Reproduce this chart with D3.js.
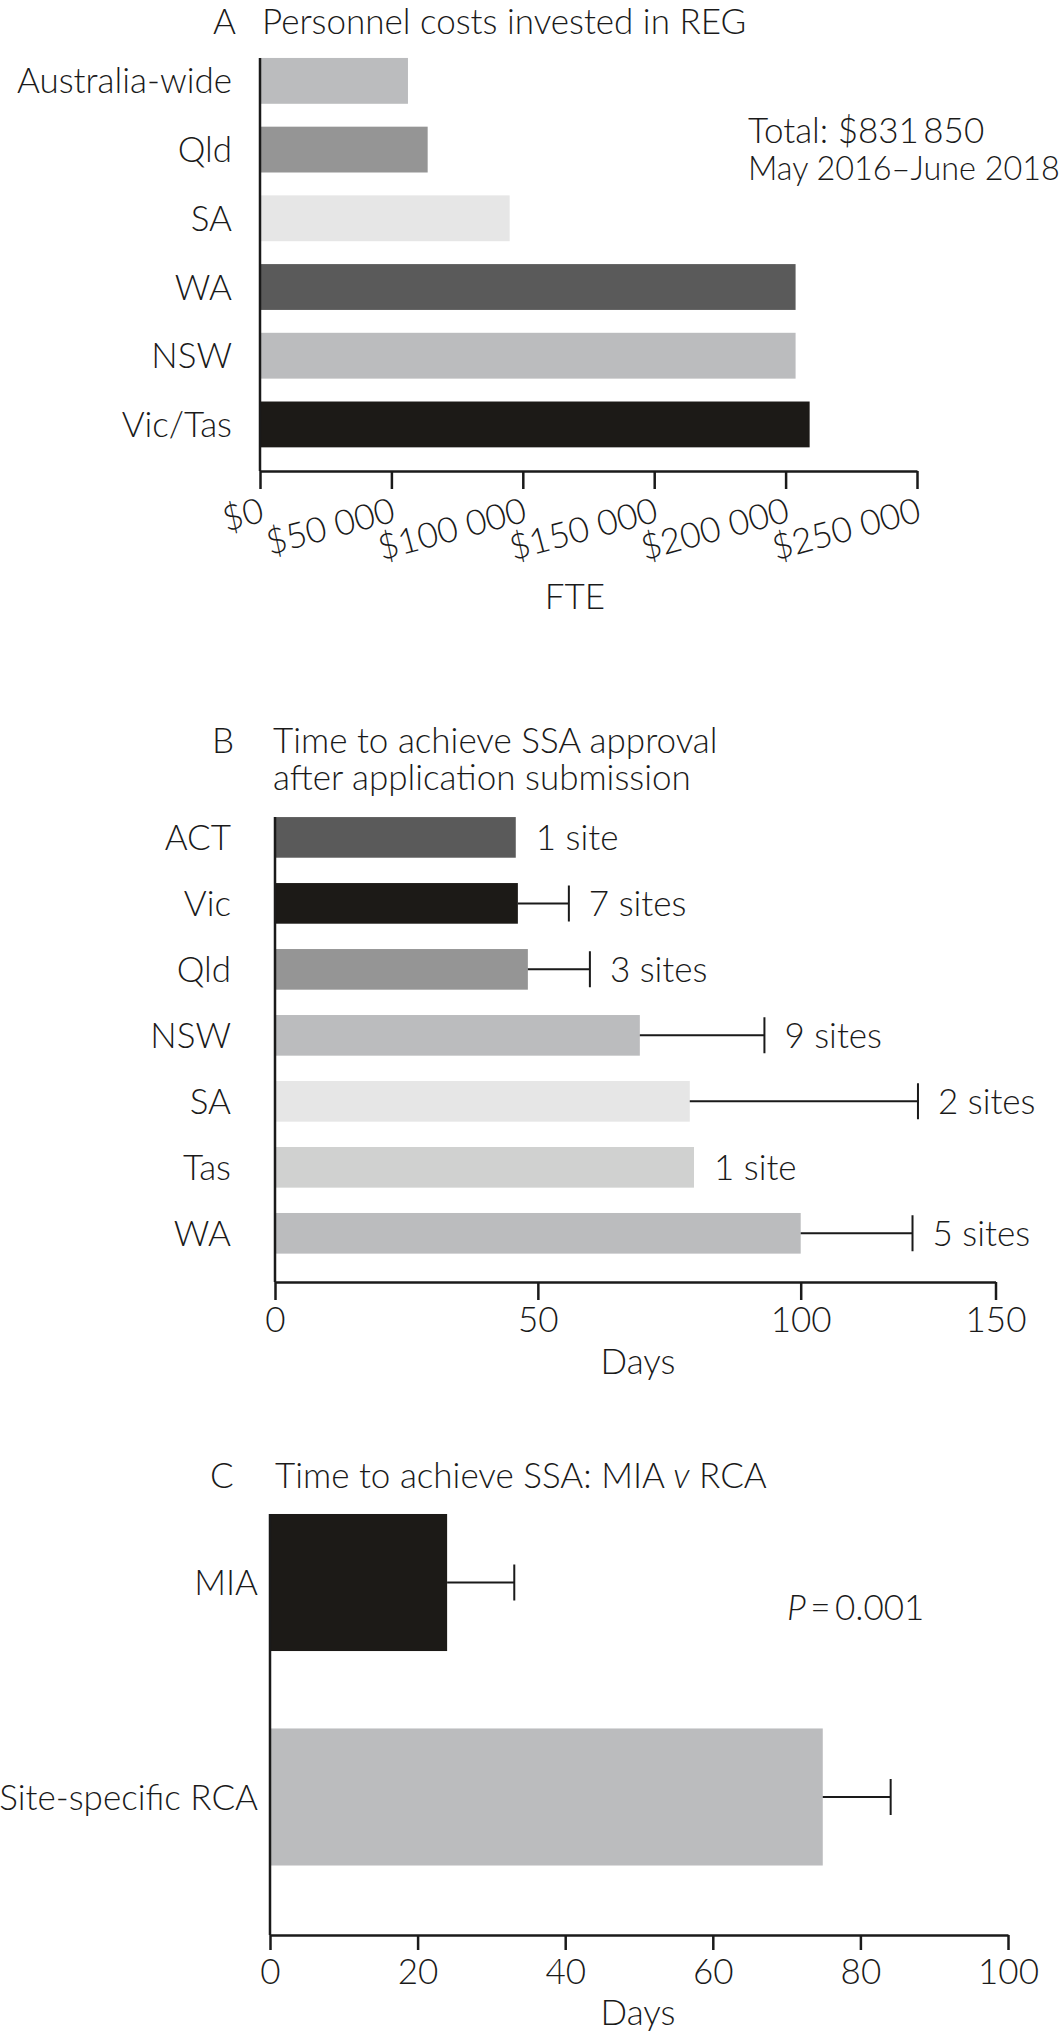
<!DOCTYPE html>
<html lang="en">
<head>
<meta charset="UTF-8">
<title>REG personnel costs and SSA approval times</title>
<script src="https://d3js.org/d3.v7.min.js"></script>
<style>
  body { margin: 0; background: #fff; }
  svg { display: block; }
  text { font-family: Lato, "Open Sans", sans-serif; font-size: 35px; font-weight: 300; fill: #1a1a1a; }
  .axis path, .axis line { stroke: #1a1a1a; stroke-width: 2.5; }
  .vline { stroke: #1a1a1a; stroke-width: 2.5; }
  .whisker { stroke: #1a1a1a; stroke-width: 2; fill: none; }
</style>
</head>
<body>
<script>
// Panel A - personnel costs by region
const regionsA = ["Australia-wide", "Qld", "SA", "WA", "NSW", "Vic/Tas"];
const costsA = [56300, 63800, 95000, 203800, 203800, 209150];
const ticksA = [0, 50000, 100000, 150000, 200000, 250000];

// Panel B - days to SSA approval by state
const statesB = ["ACT", "Vic", "Qld", "NSW", "SA", "Tas", "WA"];
const daysB = [45.8, 46.2, 48.1, 69.4, 78.9, 79.7, 100.0];
const errTopB = [null, 55.9, 59.9, 93.1, 130.1, null, 128.7];
const sitesB = ["1 site", "7 sites", "3 sites", "9 sites", "2 sites", "1 site", "5 sites"];
const ticksB = [0, 50, 100, 150];

// Panel C - MIA vs site-specific RCA
const groupsC = ["MIA", "Site-specific RCA"];
const daysC = [24.0, 74.9];
const errTopC = [33.1, 84.1];
const ticksC = [0, 20, 40, 60, 80, 100];

// fills
const fillA = { "Australia-wide": "#bbbcbe", "Qld": "#959595", "SA": "#e6e6e6", "WA": "#5a5a5a", "NSW": "#bbbcbe", "Vic/Tas": "#1c1a17" };
const fillB = { "ACT": "#5a5a5a", "Vic": "#1c1a17", "Qld": "#959595", "NSW": "#bbbcbe", "SA": "#e6e6e6", "Tas": "#d0d1d0", "WA": "#bbbcbe" };
const fillC = { "MIA": "#1c1a17", "Site-specific RCA": "#bbbcbe" };

const W = 1064, H = 2033;
const svg = d3.select("body").append("svg")
    .attr("width", W)
    .attr("height", H);

const money = v => "$" + d3.format(",")(v).replace(/,/g, " ");

// shrink a text until it fits before the right edge
function fitRight(sel, maxRight) {
    const x = +sel.attr("x");
    const len = sel.node().getComputedTextLength();
    if (x + len > maxRight) {
        const fs = parseFloat(getComputedStyle(sel.node()).fontSize);
        sel.style("font-size", (fs * (maxRight - x) / len) + "px");
    }
}

// ---------- A ----------
const gA = svg.append("g");
const xA = d3.scaleLinear().domain([0, 250000]).range([260, 917]);
const yA = d3.scaleBand().domain(regionsA).range([46.5, 458.8])
    .paddingInner(0.333).paddingOuter(0.1667);
const axisYA = 471;

gA.append("text").attr("x", 213).attr("y", 34).text("A");
gA.append("text").attr("x", 262).attr("y", 34).text("Personnel costs invested in REG");

gA.selectAll(".bar")
    .data(regionsA.map((r, i) => ({ r, v: costsA[i] })))
    .enter().append("rect")
    .attr("class", "bar")
    .attr("x", xA(0))
    .attr("y", d => yA(d.r))
    .attr("width", d => xA(d.v) - xA(0))
    .attr("height", yA.bandwidth())
    .attr("fill", d => fillA[d.r]);

gA.append("g")
    .attr("class", "axis")
    .attr("transform", "translate(0," + axisYA + ")")
    .call(d3.axisBottom(xA).tickValues(ticksA).tickFormat(money).tickSize(18).tickSizeOuter(0))
    .selectAll("text")
    .attr("text-anchor", "end")
    .attr("x", 5).attr("y", 50).attr("dy", 0)
    .attr("transform", "rotate(-15 5 50)");

gA.append("line").attr("class", "vline")
    .attr("x1", xA(0)).attr("x2", xA(0))
    .attr("y1", yA(regionsA[0])).attr("y2", axisYA);

gA.append("g")
    .attr("transform", "translate(" + xA(0) + ",0)")
    .call(d3.axisLeft(yA).tickSize(0).tickPadding(28))
    .call(g => g.select(".domain").remove())
    .selectAll("text").attr("dy", "0.36em");

gA.append("text").attr("x", 575).attr("y", 609).attr("text-anchor", "middle").text("FTE");
gA.append("text").attr("x", 748).attr("y", 143).text("Total: $831\u2009850");
const period = gA.append("text").attr("x", 748).attr("y", 180).text("May 2016\u2013June 2018");
fitRight(period, W - 4);

// ---------- B ----------
const gB = svg.append("g");
// the printed axis puts 150 short of its linear spot, so the scale bends after 100
const xB = d3.scaleLinear().domain([0, 100, 150]).range([275, 800.7, 995.5]);
const yB = d3.scaleBand().domain(statesB).range([804.4, 1266.3])
    .paddingInner(0.384).paddingOuter(0.192);
const axisYB = 1282;

gB.append("text").attr("x", 212).attr("y", 753).text("B");
gB.append("text").attr("x", 273).attr("y", 753).text("Time to achieve SSA approval");
gB.append("text").attr("x", 273).attr("y", 790).text("after application submission");

const rowsB = statesB.map((s, i) => ({ s, v: daysB[i], e: errTopB[i], lab: sitesB[i] }));

gB.selectAll(".bar")
    .data(rowsB)
    .enter().append("rect")
    .attr("class", "bar")
    .attr("x", xB(0))
    .attr("y", d => yB(d.s))
    .attr("width", d => xB(d.v) - xB(0))
    .attr("height", yB.bandwidth())
    .attr("fill", d => fillB[d.s]);

const errRowsB = rowsB.filter(d => d.e != null);
gB.selectAll(".whisker")
    .data(errRowsB)
    .enter().append("path")
    .attr("class", "whisker")
    .attr("d", d => {
        const cy = yB(d.s) + yB.bandwidth() / 2;
        return "M" + xB(d.v) + "," + cy + "H" + xB(d.e) +
            "M" + xB(d.e) + "," + (cy - 18) + "V" + (cy + 18);
    });

gB.selectAll(".sites")
    .data(rowsB)
    .enter().append("text")
    .attr("class", "sites")
    .attr("x", d => xB(d.e != null ? d.e : d.v) + 20)
    .attr("y", d => yB(d.s) + yB.bandwidth() / 2)
    .attr("dy", "0.36em")
    .text(d => d.lab);

gB.append("g")
    .attr("class", "axis")
    .attr("transform", "translate(0," + axisYB + ")")
    .call(d3.axisBottom(xB).tickValues(ticksB).tickSize(18).tickSizeOuter(0))
    .selectAll("text").attr("y", 50).attr("dy", 0);

gB.append("line").attr("class", "vline")
    .attr("x1", xB(0)).attr("x2", xB(0))
    .attr("y1", yB(statesB[0])).attr("y2", axisYB);

gB.append("g")
    .attr("transform", "translate(" + xB(0) + ",0)")
    .call(d3.axisLeft(yB).tickSize(0).tickPadding(44))
    .call(g => g.select(".domain").remove())
    .selectAll("text").attr("dy", "0.36em");

gB.append("text").attr("x", 638).attr("y", 1374).attr("text-anchor", "middle").text("Days");

// ---------- C ----------
const gC = svg.append("g");
const xC = d3.scaleLinear().domain([0, 100]).range([270, 1008]);
const yC = d3.scaleBand().domain(groupsC).range([1444.5, 1935])
    .paddingInner(0.361).paddingOuter(0.324);
const axisYC = 1935;

gC.append("text").attr("x", 210).attr("y", 1488).text("C");
const titleC = gC.append("text").attr("x", 275).attr("y", 1488);
titleC.append("tspan").text("Time to achieve SSA: MIA ");
titleC.append("tspan").style("font-style", "italic").text("v");
titleC.append("tspan").text(" RCA");

const rowsC = groupsC.map((g, i) => ({ g, v: daysC[i], e: errTopC[i] }));

gC.selectAll(".bar")
    .data(rowsC)
    .enter().append("rect")
    .attr("class", "bar")
    .attr("x", xC(0))
    .attr("y", d => yC(d.g))
    .attr("width", d => xC(d.v) - xC(0))
    .attr("height", yC.bandwidth())
    .attr("fill", d => fillC[d.g]);

gC.selectAll(".whisker")
    .data(rowsC)
    .enter().append("path")
    .attr("class", "whisker")
    .attr("d", d => {
        const cy = yC(d.g) + yC.bandwidth() / 2;
        return "M" + xC(d.v) + "," + cy + "H" + xC(d.e) +
            "M" + xC(d.e) + "," + (cy - 18) + "V" + (cy + 18);
    });

gC.append("g")
    .attr("class", "axis")
    .attr("transform", "translate(0," + axisYC + ")")
    .call(d3.axisBottom(xC).tickValues(ticksC).tickSize(15).tickSizeOuter(0))
    .selectAll("text").attr("y", 49).attr("dy", 0);

gC.append("line").attr("class", "vline")
    .attr("x1", xC(0)).attr("x2", xC(0))
    .attr("y1", yC(groupsC[0])).attr("y2", axisYC);

gC.append("g")
    .attr("transform", "translate(" + xC(0) + ",0)")
    .call(d3.axisLeft(yC).tickSize(0).tickPadding(12))
    .call(g => g.select(".domain").remove())
    .selectAll("text").attr("dy", "0.36em");

const pText = gC.append("text").attr("x", 787).attr("y", 1620);
pText.append("tspan").style("font-style", "italic").text("P");
pText.append("tspan").text("\u2009=\u20090.001");

gC.append("text").attr("x", 638).attr("y", 2025).attr("text-anchor", "middle").text("Days");
</script>
</body>
</html>
